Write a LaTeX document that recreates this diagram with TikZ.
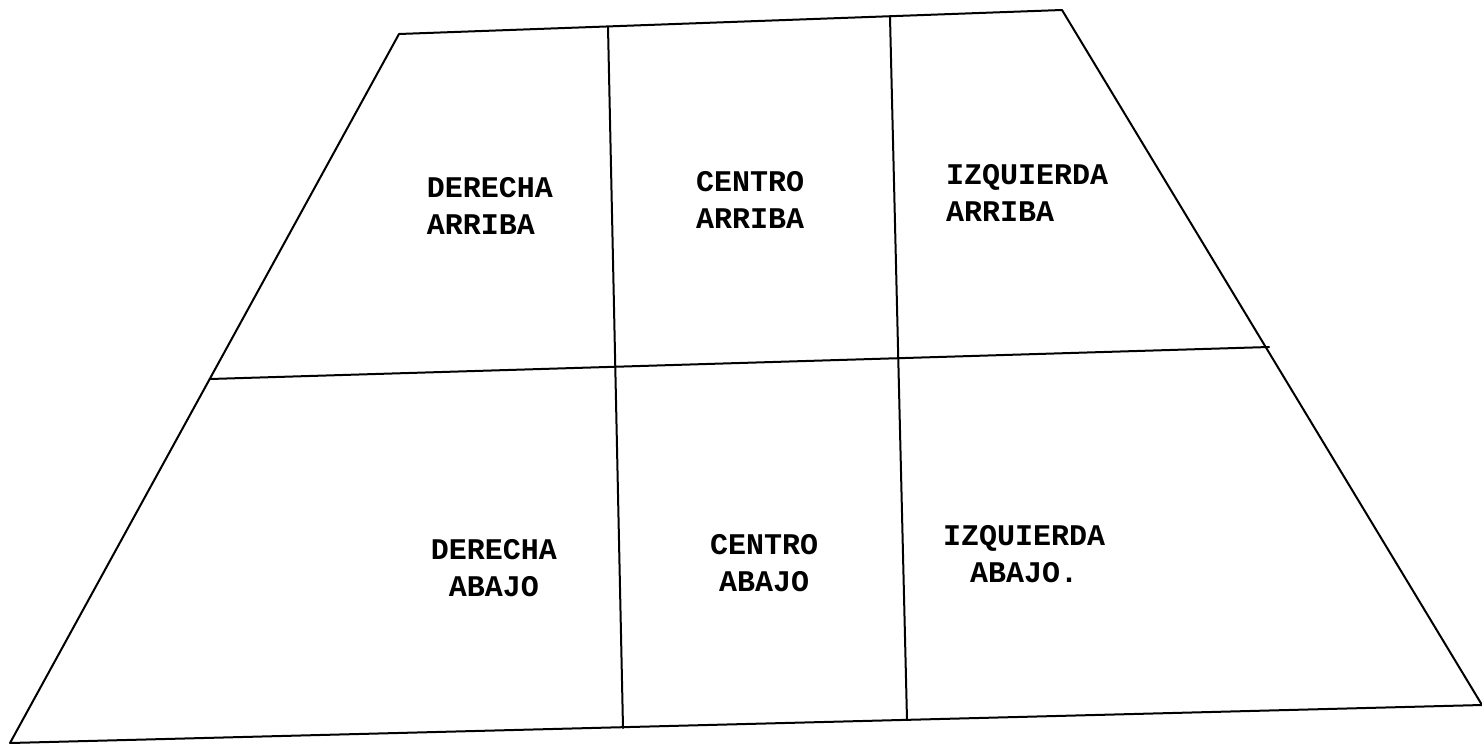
\documentclass[tikz,border=0pt]{standalone}
\usepackage{fontspec}
\setmonofont{Liberation Mono}
\begin{document}
\begin{tikzpicture}[x=1pt,y=-1pt,
  edge/.style={line width=2pt,line join=round,line cap=round},
  lbl/.style={font=\ttfamily\bfseries\fontsize{30}{37}\selectfont,inner sep=0pt}]
\useasboundingbox (0,0) rectangle (1482,744);
\coordinate (TL) at (399,34);
\coordinate (TR) at (1062,10);
\coordinate (BR) at (1482,705);
\coordinate (BL) at (10,743);
\coordinate (ML) at (210,379);
\coordinate (MR) at (1269,347);
\coordinate (T1) at (608,27);
\coordinate (B1) at (623,728);
\coordinate (T2) at (890,17);
\coordinate (B2) at (907,720);
\draw[edge] (TL) -- (TR) -- (BR) -- (BL) -- cycle;
\draw[edge] (ML) -- (MR);
\draw[edge] (T1) -- (B1);
\draw[edge] (T2) -- (B2);
\node[lbl,align=left] (da) at (490,206) {DERECHA\\ARRIBA};
\node[lbl,align=left] (ca) at (750,200) {CENTRO\\ARRIBA};
\node[lbl,align=left] (ia) at (1027,193) {IZQUIERDA\\ARRIBA};
\node[lbl,align=center] (db) at (494,568) {DERECHA\\ABAJO};
\node[lbl,align=center] (cb) at (764,563) {CENTRO\\ABAJO};
\node[lbl,align=center] (ib) at (1024,554) {IZQUIERDA\\ABAJO.};
\end{tikzpicture}
\end{document}
